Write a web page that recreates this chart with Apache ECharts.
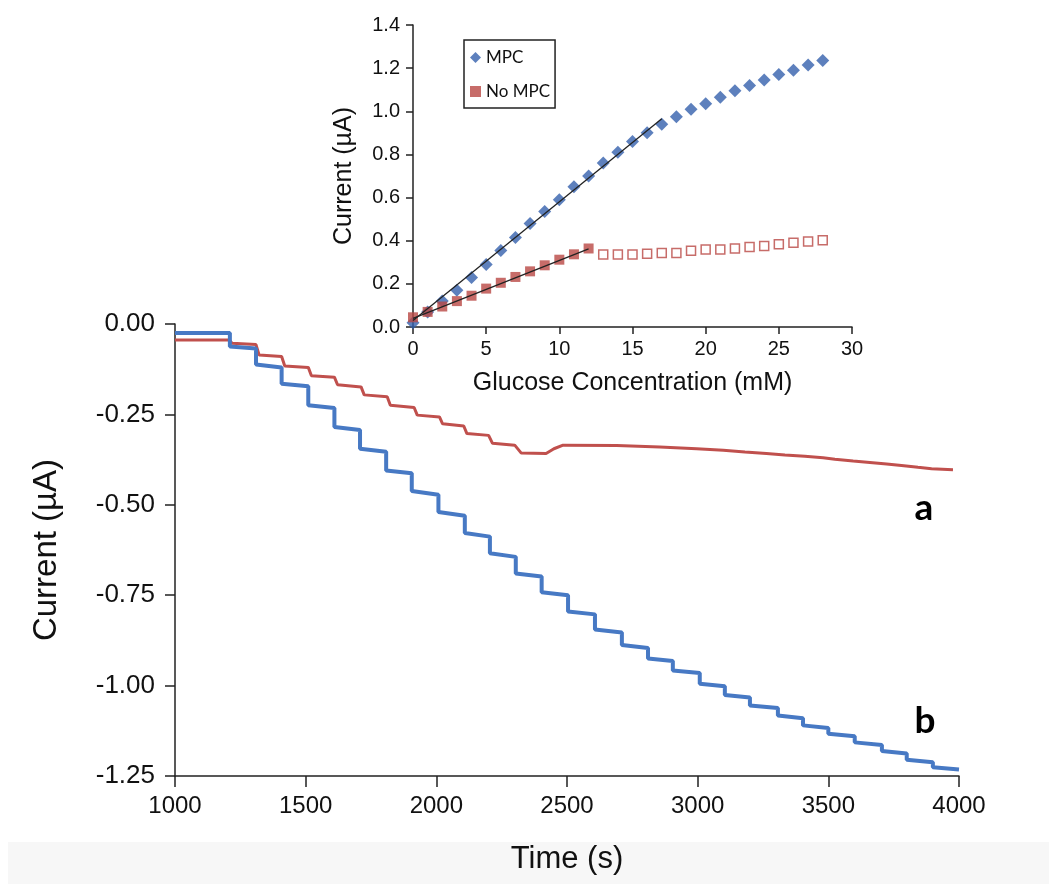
<!DOCTYPE html>
<html><head><meta charset="utf-8">
<script src="https://cdn.jsdelivr.net/npm/echarts@6/dist/echarts.min.js"></script>
<style>html,body{margin:0;padding:0;background:#fff}#c{width:1049px;height:884px}</style>
</head><body><div id="c"></div>
<script>
// ---- Main chart: amperometric response (Time vs Current) ----
var xTicksMain = [1000, 1500, 2000, 2500, 3000, 3500, 4000];
var yTicksMain = [0, -0.25, -0.5, -0.75, -1.0, -1.25];

// curve b (MPC) – staircase: baseline, step times, plateau start / end levels
var blueStartTime = 1000;
var blueBaseline = -0.025;
var blueStepTimes = [1210,1310,1408,1510,1610,1708,1808,1906,2008,2109,2205,2304,2403,2504,2607,2710,2810,2905,3008,3104,3200,3307,3403,3500,3601,3705,3800,3900];
var blueStepStart = [-0.062,-0.112,-0.165,-0.225,-0.285,-0.345,-0.405,-0.462,-0.520,-0.578,-0.634,-0.690,-0.742,-0.795,-0.845,-0.888,-0.925,-0.958,-0.995,-1.026,-1.055,-1.083,-1.110,-1.133,-1.157,-1.181,-1.205,-1.226];
var blueStepEnd   = [-0.068,-0.120,-0.172,-0.232,-0.293,-0.353,-0.413,-0.472,-0.530,-0.588,-0.644,-0.698,-0.750,-0.803,-0.853,-0.896,-0.932,-0.965,-1.002,-1.033,-1.062,-1.090,-1.117,-1.140,-1.164,-1.188,-1.212,-1.232];
var blueEndTime = 4000;

// curve a (no MPC)
var redTimes  = [1000,1208,1218,1310,1322,1408,1420,1510,1522,1610,1622,1712,1724,1812,1824,1915,1927,2012,2024,2105,2117,2200,2215,2300,2325,2420,2450,2485,2690,2855,2996,3098,3181,3263,3334,3410,3480,3525,3595,3659,3723,3780,3843,3895,3977];
var redValues = [-0.044,-0.044,-0.053,-0.057,-0.086,-0.090,-0.116,-0.120,-0.143,-0.147,-0.168,-0.174,-0.196,-0.201,-0.225,-0.231,-0.252,-0.257,-0.276,-0.282,-0.303,-0.308,-0.330,-0.335,-0.357,-0.358,-0.345,-0.335,-0.336,-0.340,-0.345,-0.349,-0.354,-0.358,-0.362,-0.366,-0.370,-0.374,-0.379,-0.383,-0.387,-0.391,-0.396,-0.400,-0.403];

// ---- Inset: calibration (Glucose concentration vs Current) ----
var mpcConc = [0,1,2,3,4,5,6,7,8,9,10,11,12,13,14,15,16,17,18,19,20,21,22,23,24,25,26,27,28];
var mpcCurrent = [0.02,0.07,0.12,0.17,0.23,0.29,0.355,0.415,0.48,0.535,0.59,0.65,0.70,0.76,0.81,0.86,0.90,0.94,0.975,1.01,1.035,1.065,1.095,1.12,1.145,1.17,1.19,1.215,1.235];
var noMpcConc = [0,1,2,3,4,5,6,7,8,9,10,11,12];
var noMpcCurrent = [0.045,0.07,0.095,0.12,0.145,0.178,0.205,0.232,0.258,0.286,0.312,0.337,0.364];
var noMpcSatConc = [13,14,15,16,17,18,19,20,21,22,23,24,25,26,27,28];
var noMpcSatCurrent = [0.336,0.336,0.336,0.34,0.343,0.343,0.353,0.359,0.359,0.364,0.371,0.376,0.384,0.39,0.396,0.402];
var mpcFitX = [0, 17], mpcFitY = [0.03, 0.965];
var noMpcFitX = [0, 12], noMpcFitY = [0.04, 0.362];

function zip(a, b) { return a.map(function (v, i) { return [v, b[i]]; }); }

var blueFull = [[blueStartTime, blueBaseline]];
for (var j = 0; j < blueStepTimes.length; j++) {
  blueFull.push([blueStepTimes[j], j === 0 ? blueBaseline : blueStepEnd[j - 1]]);
  blueFull.push([blueStepTimes[j], blueStepStart[j]]);
}
blueFull.push([blueEndTime, blueStepEnd[blueStepEnd.length - 1]]);

var FONT = "'Liberation Sans', Arial, sans-serif";

var chart = echarts.init(document.getElementById('c'), null, { renderer: 'canvas' });
var option = {
  backgroundColor: '#fff',
  animation: false,
  textStyle: { fontFamily: FONT },
  grid: [
    { left: 175, top: 324, width: 784, height: 452, containLabel: false, outerBoundsMode: 'none' },
    { left: 413, top: 25, width: 439, height: 302, containLabel: false, outerBoundsMode: 'none' }
  ],
  xAxis: [
    {
      gridIndex: 0, type: 'value', min: 1000, max: 4000, interval: 500,
      name: 'Time (s)', nameLocation: 'middle', nameGap: 68,
      nameTextStyle: { fontSize: 31, color: '#111', fontFamily: FONT },
      axisLine: { onZero: false, lineStyle: { color: '#222', width: 1.5 } },
      axisTick: { show: true, inside: false, length: 11, lineStyle: { color: '#222', width: 1.5 } },
      axisLabel: { fontSize: 24, color: '#111', margin: 18, fontFamily: FONT,
        formatter: function (v) { return String(v); } },
      splitLine: { show: false }
    },
    {
      gridIndex: 1, type: 'value', min: 0, max: 30, interval: 5,
      name: 'Glucose Concentration (mM)', nameLocation: 'middle', nameGap: 44,
      nameTextStyle: { fontSize: 25, color: '#111', fontFamily: FONT },
      axisLine: { onZero: false, lineStyle: { color: '#222', width: 1.5 } },
      axisTick: { show: true, inside: false, length: 7, lineStyle: { color: '#222', width: 1.5 } },
      axisLabel: { fontSize: 20, color: '#111', margin: 12, fontFamily: FONT,
        formatter: function (v) { return String(v); } },
      splitLine: { show: false }
    }
  ],
  yAxis: [
    {
      gridIndex: 0, type: 'value', min: -1.25, max: 0, interval: 0.25,
      name: 'Current (\u00b5A)', nameLocation: 'middle', nameGap: 112, nameRotate: 90,
      nameTextStyle: { fontSize: 33, color: '#111', fontFamily: FONT },
      axisLine: { onZero: false, lineStyle: { color: '#222', width: 1.5 } },
      axisTick: { show: true, inside: false, length: 10, lineStyle: { color: '#222', width: 1.5 } },
      axisLabel: { fontSize: 26, color: '#111', margin: 20, fontFamily: FONT,
        formatter: function (v) { return v.toFixed(2); } },
      splitLine: { show: false }
    },
    {
      gridIndex: 1, type: 'value', min: 0, max: 1.4, interval: 0.2,
      name: 'Current (\u00b5A)', nameLocation: 'middle', nameGap: 56, nameRotate: 90,
      nameTextStyle: { fontSize: 25, color: '#111', fontFamily: FONT },
      axisLine: { onZero: false, lineStyle: { color: '#222', width: 1.5 } },
      axisTick: { show: true, inside: false, length: 7, lineStyle: { color: '#222', width: 1.5 } },
      axisLabel: { fontSize: 20, color: '#111', margin: 13, fontFamily: FONT,
        formatter: function (v) { return v.toFixed(1); } },
      splitLine: { show: false }
    }
  ],
  legend: {
    data: [{ name: 'MPC', icon: 'diamond' }, { name: 'No MPC', icon: 'rect' }],
    orient: 'vertical', left: 464, top: 40,
    itemWidth: 11, itemHeight: 11, itemGap: 17,
    padding: [9, 5, 8, 6],
    borderColor: '#222', borderWidth: 1.5,
    textStyle: { fontSize: 17, color: '#111', fontFamily: "Lato, 'Liberation Sans', sans-serif" }
  },
  series: [
    {
      name: 'a', type: 'line', xAxisIndex: 0, yAxisIndex: 0,
      data: zip(redTimes, redValues), showSymbol: false, symbol: 'none',
      lineStyle: { color: '#c0504d', width: 3 }, z: 3
    },
    {
      name: 'b', type: 'line', xAxisIndex: 0, yAxisIndex: 0,
      data: blueFull, showSymbol: false, symbol: 'none',
      lineStyle: { color: '#4779c4', width: 4 }, z: 4
    },
    {
      name: 'MPC', type: 'scatter', xAxisIndex: 1, yAxisIndex: 1,
      data: zip(mpcConc, mpcCurrent), symbol: 'diamond', symbolSize: 13,
      itemStyle: { color: '#3560ad' }, z: 3
    },
    {
      name: 'No MPC', type: 'scatter', xAxisIndex: 1, yAxisIndex: 1,
      data: zip(noMpcConc, noMpcCurrent), symbol: 'rect', symbolSize: 10,
      itemStyle: { color: '#b94743' }, z: 3
    },
    {
      name: 'No MPC (sat.)', type: 'scatter', xAxisIndex: 1, yAxisIndex: 1,
      data: zip(noMpcSatConc, noMpcSatCurrent), symbol: 'rect', symbolSize: 9,
      itemStyle: { color: '#fff', borderColor: '#b94743', borderWidth: 1.5 }, z: 3
    },
    {
      name: 'MPC fit', type: 'line', xAxisIndex: 1, yAxisIndex: 1,
      data: zip(mpcFitX, mpcFitY), symbol: 'none',
      lineStyle: { color: '#222', width: 1.3 }, z: 5
    },
    {
      name: 'No MPC fit', type: 'line', xAxisIndex: 1, yAxisIndex: 1,
      data: zip(noMpcFitX, noMpcFitY), symbol: 'none',
      lineStyle: { color: '#222', width: 1.3 }, z: 5
    }
  ],
  graphic: [
    { type: 'rect', z: -10, shape: { x: 8, y: 842, width: 1041, height: 42 }, style: { fill: '#f7f7f7' } },
    { type: 'text', x: 924, y: 508, style: { text: 'a', fontSize: 37, fontWeight: 'bold', fill: '#000',
        fontFamily: "Lato, 'Open Sans', sans-serif", align: 'center', verticalAlign: 'middle' } },
    { type: 'text', x: 925, y: 721, style: { text: 'b', fontSize: 37, fontWeight: 'bold', fill: '#000',
        fontFamily: "Lato, 'Open Sans', sans-serif", align: 'center', verticalAlign: 'middle' } }
  ]
};
chart.setOption(option);
</script></body></html>
